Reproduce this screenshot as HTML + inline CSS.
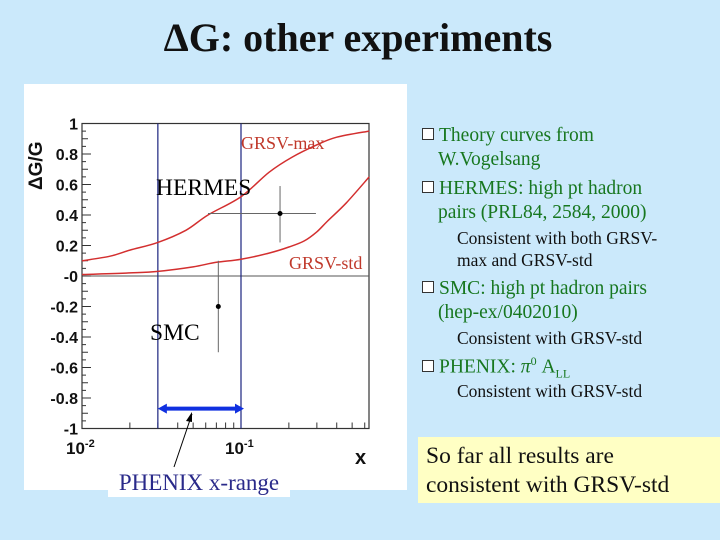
<!DOCTYPE html>
<html><head><meta charset="utf-8"><style>
body{margin:0;width:720px;height:540px;background:#cbe9fb;position:relative;overflow:hidden;font-family:"Liberation Serif",serif}
.t{position:absolute;white-space:nowrap}
.g{color:#17771f;font-size:19.5px}
.k{color:#111;font-size:17.5px}
.b{display:inline-block;width:10px;height:10px;border:1px solid #333;background:#fff;margin-right:5px;vertical-align:1px}
</style></head><body>
<div class="t" style="left:0;width:716px;text-align:center;top:14px;font-size:40px;font-weight:bold;color:#111">ΔG: other experiments</div>
<svg width="720" height="540" style="position:absolute;left:0;top:0">
<rect x="24" y="84" width="383" height="406" fill="#fff"/>
<g id="g"></g>
</svg>
<div class="t" style="left:108px;top:468px;width:182px;height:29px;background:#fff;color:#2a2a8a;font-size:23px;text-align:center;line-height:29px">PHENIX x-range</div>
<div class="t g" style="left:422px;top:125px"><span class="b"></span>Theory curves from</div>
<div class="t g" style="left:438px;top:149px">W.Vogelsang</div>
<div class="t g" style="left:422px;top:178px"><span class="b"></span>HERMES: high pt hadron</div>
<div class="t g" style="left:438px;top:202px">pairs (PRL84, 2584, 2000)</div>
<div class="t k" style="left:457px;top:228px">Consistent with both GRSV-</div>
<div class="t k" style="left:457px;top:250px">max and GRSV-std</div>
<div class="t g" style="left:422px;top:278px"><span class="b"></span>SMC: high pt hadron pairs</div>
<div class="t g" style="left:438px;top:302px">(hep-ex/0402010)</div>
<div class="t k" style="left:457px;top:328px">Consistent with GRSV-std</div>
<div class="t g" style="left:422px;top:354px"><span class="b"></span>PHENIX: <i>π</i><sup style="font-size:12px">0</sup> A<sub style="font-size:12px">LL</sub></div>
<div class="t k" style="left:457px;top:381px">Consistent with GRSV-std</div>
<div class="t" style="left:418px;top:437px;width:302px;height:66px;background:#ffffc4;font-size:23.5px;color:#111;line-height:29px;padding-left:8px;box-sizing:border-box;padding-top:5px">So far all results are<br>consistent with GRSV-std</div>
<script>
const maxX=[0.01,0.015,0.02,0.03,0.045,0.062,0.1,0.15,0.21,0.3,0.4,0.64];
const maxY=[0.1,0.13,0.17,0.22,0.3,0.4,0.52,0.68,0.78,0.86,0.91,0.95];
const stdX=[0.01,0.02,0.03,0.05,0.07,0.1,0.15,0.2,0.25,0.3,0.35,0.46,0.64];
const stdY=[0.01,0.02,0.03,0.06,0.09,0.11,0.15,0.19,0.23,0.29,0.36,0.48,0.65];
const yTicks=[1,0.8,0.6,0.4,0.2,0,-0.2,-0.4,-0.6,-0.8,-1];
const yTickLabels=["1","0.8","0.6","0.4","0.2","-0","-0.2","-0.4","-0.6","-0.8","-1"];
const hermes={x:0.176,y:0.41,xlo:0.062,xhi:0.296,ylo:0.22,yhi:0.59};
const smc={x:0.072,y:-0.2,ylo:-0.5,yhi:0.1};
const phenixRange=[0.03,0.1];
const phenixArrowY=-0.87;
const X=v=>82+(Math.log10(v)+2)*159, Y=v=>276-v*152.5;
const NS='http://www.w3.org/2000/svg', G=document.getElementById('g');
function el(t,a,txt){const e=document.createElementNS(NS,t);for(const k in a)e.setAttribute(k,a[k]);if(txt!==undefined)e.textContent=txt;G.appendChild(e);return e;}
let e;
e=el('rect',{x:82,y:Y(1),width:287,height:Y(-1)-Y(1),fill:'none',stroke:'#333','stroke-width':1.2});

e=el('line',{x1:82,x2:369,y1:Y(0),y2:Y(0),stroke:'#555'});

for(let v=-1;v<=1.001;v+=0.05){const maj=Math.abs(Math.round(v*10)%2)==0&&Math.abs(v*10-Math.round(v*10))<1e-6;const mid=Math.abs(v*10-Math.round(v*10))<1e-6;
 e=el('line',{x1:82,x2:82+(maj?9:mid?6:4),y1:Y(v),y2:Y(v),stroke:'#333'});}
yTicks.forEach((v,i)=>{e=el('text',{x:78,y:Y(v)+6,'text-anchor':'end','font-family':'Liberation Sans, sans-serif','font-weight':'bold','font-size':16,fill:'#111'},yTickLabels[i]);
 });
[0.02,0.03,0.04,0.05,0.06,0.07,0.08,0.09,0.2,0.3,0.4,0.5,0.6].forEach(v=>{e=el('line',{x1:X(v),x2:X(v),y1:Y(-1),y2:Y(-1)-6,stroke:'#333'});});
[0.01,0.1].forEach(v=>{e=el('line',{x1:X(v),x2:X(v),y1:Y(-1),y2:Y(-1)-10,stroke:'#333'});});
[[0.01,'-2'],[0.1,'-1']].forEach(([v,p])=>{e=el('text',{x:X(v)-16,y:454,'font-family':'Liberation Sans, sans-serif','font-weight':'bold','font-size':17,fill:'#111'});
 e.innerHTML='10<tspan dy="-7" font-size="11">'+p+'</tspan>';});
e=el('text',{x:355,y:464,'font-family':'Liberation Sans, sans-serif','font-weight':'bold','font-size':20,fill:'#111'},'x');

e=el('text',{x:0,y:0,transform:'translate(42,190) rotate(-90)','font-family':'Liberation Sans, sans-serif','font-weight':'bold','font-size':19,fill:'#111'},'ΔG/G');

phenixRange.forEach(v=>{e=el('line',{x1:X(v),x2:X(v),y1:Y(1),y2:Y(-1),stroke:'#1a237e','stroke-width':1.2});});
function curve(xs,ys,name){
 const P=xs.map((x,i)=>[X(x),Y(ys[i])]);let d='M'+P[0][0].toFixed(1)+','+P[0][1].toFixed(1);
 for(let i=0;i<P.length-1;i++){const p0=P[Math.max(0,i-1)],p1=P[i],p2=P[i+1],p3=P[Math.min(P.length-1,i+2)];
  const c1=[p1[0]+(p2[0]-p0[0])/6,p1[1]+(p2[1]-p0[1])/6],c2=[p2[0]-(p3[0]-p1[0])/6,p2[1]-(p3[1]-p1[1])/6];
  d+='C'+c1.map(v=>v.toFixed(1))+' '+c2.map(v=>v.toFixed(1))+' '+p2.map(v=>v.toFixed(1));}
 e=el('path',{d:d,fill:'none',stroke:'#d32f2f','stroke-width':1.5});}
curve(maxX,maxY,'grsv-max-curve');curve(stdX,stdY,'grsv-std-curve');
function pt(p,name){
 if(p.xlo){e=el('line',{x1:X(p.xlo),x2:X(p.xhi),y1:Y(p.y),y2:Y(p.y),stroke:'#666'});}
 e=el('line',{x1:X(p.x),x2:X(p.x),y1:Y(p.ylo),y2:Y(p.yhi),stroke:'#666'});
 e=el('circle',{cx:X(p.x),cy:Y(p.y),r:2.5,fill:'#000'});}
pt(hermes,'hermes');pt(smc,'smc');
const ay=Y(phenixArrowY),ax1=X(phenixRange[0]),ax2=X(phenixRange[1])+3;
e=el('line',{x1:ax1+4,x2:ax2-4,y1:ay,y2:ay,stroke:'#1030e0','stroke-width':4});

e=el('path',{d:`M${ax1},${ay}l9,-5v10zM${ax2},${ay}l-9,-5v10z`,fill:'#1030e0'});

e=el('line',{x1:174,y1:467,x2:192,y2:414,stroke:'#000'});
e=el('path',{d:'M192,412l-6,9l6,1z',fill:'#000'});
const labs=[['GRSV-max',241,149,'#c0392b',18,'grsv-max-label'],['HERMES',156,195,'#000',23.5,'hermes-label'],['GRSV-std',289,269,'#c0392b',18,'grsv-std-label'],['SMC',150,340,'#000',23.5,'smc-label']];
labs.forEach(l=>{e=el('text',{x:l[1],y:l[2],fill:l[3],'font-size':l[4],'font-family':'Liberation Serif, serif'},l[0]);});
</script>
</body></html>
